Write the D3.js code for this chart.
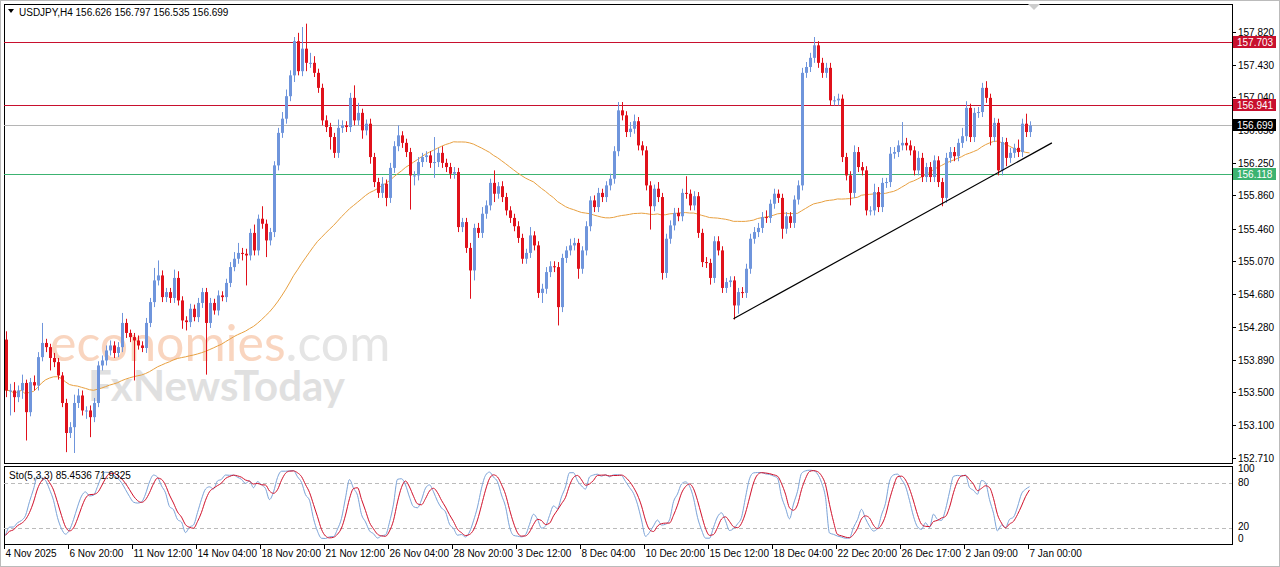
<!DOCTYPE html>
<html><head><meta charset="utf-8">
<script src="https://cdn.jsdelivr.net/npm/d3@7"></script>
<style>body{margin:0;background:#fff;}svg{display:block;font-family:"Liberation Sans",sans-serif;}</style>
</head><body><svg id="c" width="1280" height="567"></svg>
<script>
const firstOpen = 154.13;
const closes = [153.52,153.52,153.44,153.52,153.61,153.26,153.62,153.58,153.92,154.09,
154.04,153.91,153.86,153.70,153.37,153.01,153.08,153.37,153.46,153.28,
153.28,153.20,153.37,153.82,153.88,154.00,154.06,153.97,154.04,154.33,
154.21,154.16,154.12,154.06,154.03,154.33,154.58,154.84,154.90,154.64,
154.70,154.63,154.87,154.60,154.36,154.34,154.50,154.40,154.57,154.70,
154.33,154.57,154.48,154.66,154.64,154.81,155.00,155.10,155.17,155.16,
155.14,155.41,155.20,155.58,155.52,155.32,155.42,156.22,156.61,156.78,
157.05,157.30,157.71,157.35,157.62,157.45,157.45,157.33,157.15,156.76,
156.68,156.56,156.37,156.67,156.70,156.68,157.03,156.76,156.85,156.64,
156.72,156.32,156.02,155.89,156.00,155.83,156.19,156.45,156.58,156.49,
156.38,156.10,156.10,156.26,156.32,156.34,156.25,156.26,156.37,156.25,
156.20,156.12,156.14,155.48,155.54,155.23,154.96,155.47,155.41,155.64,
155.74,156.01,155.88,155.97,155.84,155.68,155.59,155.49,155.35,155.10,
155.17,155.38,155.26,154.69,154.74,154.94,155.01,155.00,154.52,155.11,
155.20,155.26,155.29,154.98,155.20,155.49,155.80,155.72,155.89,155.84,
155.98,156.06,156.39,156.88,156.82,156.62,156.66,156.75,156.46,156.40,
155.98,155.73,155.94,155.84,154.93,155.34,155.50,155.65,155.61,155.89,
155.88,155.74,155.85,155.41,155.06,155.05,154.87,155.31,155.20,154.75,
154.82,154.84,154.54,154.70,154.69,154.98,155.34,155.42,155.47,155.60,
155.59,155.76,155.88,155.83,155.46,155.61,155.53,155.81,155.98,157.33,
157.40,157.51,157.66,157.45,157.33,157.39,157.00,157.00,157.02,156.32,
156.10,155.89,156.38,156.20,156.16,155.68,155.68,155.90,155.72,156.01,
156.02,156.36,156.38,156.46,156.49,156.46,156.40,156.16,156.31,156.08,
156.20,156.08,156.28,156.02,155.83,156.31,156.38,156.33,156.49,156.57,
156.91,156.56,156.85,156.86,157.15,157.03,156.56,156.73,156.16,156.50,
156.31,156.37,156.43,156.38,156.72,156.62,156.699];
const upperWick = [.10,.08,.10,.06,.10,.04,.05,.08,.06,.24,
.05,.04,.06,.05,.04,.05,.06,.10,.08,.06,
.05,.06,.06,.05,.06,.06,.06,.05,.06,.12,
.05,.04,.05,.06,.05,.06,.05,.15,.18,.06,
.05,.05,.10,.08,.05,.05,.06,.05,.06,.05,
.05,.06,.05,.06,.05,.05,.06,.08,.12,.06,
.06,.05,.10,.05,.15,.05,.05,.05,.06,.08,
.08,.06,.05,.10,.26,.30,.12,.08,.05,.05,
.06,.05,.05,.10,.06,.05,.06,.15,.12,.05,
.05,.06,.05,.05,.08,.05,.06,.06,.12,.05,
.05,.05,.05,.06,.05,.05,.05,.30,.06,.08,
.05,.05,.06,.05,.05,.05,.06,.05,.06,.08,
.06,.05,.15,.05,.06,.05,.05,.05,.06,.05,
.05,.10,.05,.05,.06,.06,.06,.06,.06,.05,
.05,.08,.06,.05,.05,.06,.05,.06,.06,.05,
.05,.06,.06,.10,.10,.05,.08,.08,.05,.05,
.05,.05,.05,.08,.05,.06,.06,.06,.06,.05,
.20,.05,.06,.05,.05,.06,.05,.06,.06,.05,
.05,.05,.05,.05,.06,.06,.06,.06,.06,.06,
.08,.05,.06,.05,.05,.05,.05,.05,.06,.06,
.06,.06,.10,.05,.06,.06,.06,.05,.06,.05,
.05,.05,.08,.06,.06,.05,.05,.10,.06,.06,
.05,.08,.06,.06,.25,.06,.06,.05,.08,.06,
.05,.06,.06,.05,.05,.06,.06,.06,.05,.10,
.08,.05,.06,.06,.06,.08,.05,.06,.05,.06,
.05,.06,.05,.10,.06,.12,.05];
const lowerWick = [.08,.30,.18,.06,.10,.34,.05,.06,.06,.05,
.06,.15,.06,.05,.05,.23,.06,.31,.06,.06,
.10,.24,.06,.05,.06,.06,.06,.06,.05,.06,
.06,.06,.48,.05,.05,.06,.05,.06,.06,.06,
.06,.06,.06,.06,.10,.10,.06,.05,.06,.06,
.62,.06,.05,.06,.05,.06,.05,.05,.06,.08,
.36,.06,.06,.06,.06,.20,.06,.06,.06,.06,
.06,.06,.08,.05,.06,.10,.06,.05,.06,.06,
.06,.15,.06,.06,.06,.06,.06,.06,.06,.10,
.06,.08,.06,.06,.06,.10,.06,.06,.06,.06,
.06,.41,.12,.06,.06,.06,.06,.18,.06,.06,
.06,.06,.06,.06,.06,.06,.34,.12,.06,.06,
.06,.06,.10,.06,.06,.06,.06,.06,.06,.06,
.06,.06,.06,.06,.12,.06,.06,.06,.22,.06,
.06,.06,.06,.12,.06,.06,.06,.06,.06,.06,
.06,.06,.06,.06,.06,.06,.06,.06,.06,.06,
.06,.28,.06,.06,.08,.06,.06,.06,.06,.06,
.06,.06,.06,.06,.06,.06,.08,.06,.06,.06,
.06,.06,.17,.10,.06,.06,.06,.06,.06,.06,
.06,.06,.06,.06,.12,.06,.06,.06,.06,.06,
.06,.06,.06,.06,.06,.06,.06,.06,.06,.06,
.06,.15,.06,.06,.06,.06,.06,.06,.06,.06,
.06,.06,.06,.06,.06,.06,.06,.06,.06,.06,
.06,.06,.06,.06,.10,.06,.06,.06,.06,.06,
.06,.06,.06,.06,.06,.06,.10,.06,.06,.06,
.10,.06,.06,.06,.06,.06,.06];
const priceTicks = ["157.820","157.430","157.040","156.650","156.250","155.860","155.460","155.070","154.680","154.280","153.890","153.500","153.100","152.710"];
const timeLabels = ["4 Nov 2025","6 Nov 20:00","11 Nov 12:00","14 Nov 04:00","18 Nov 20:00","21 Nov 12:00","26 Nov 04:00","28 Nov 20:00","3 Dec 12:00","8 Dec 04:00","10 Dec 20:00","15 Dec 12:00","18 Dec 04:00","22 Dec 20:00","26 Dec 17:00","2 Jan 09:00","7 Jan 00:00"];
const levels = [{p:157.703,c:"#c8102e",t:"157.703"},{p:156.941,c:"#c8102e",t:"156.941"},{p:156.118,c:"#3cb371",t:"156.118"}];
const lastPrice = 156.699;
const trendLine = [{i:182,p:154.38},{i:261.6,p:156.49}];
const stoLevels = [80,20];
const maPeriod = 50, kP=5, slowP=3, dP=3;

const svg = d3.select("#c");
const L=4,R=1232,T=4,B=463, ST=466, SB=544;
const FS=10;
const x = d3.scaleLinear().domain([0,1]).range([5.5,9.5]);
const y = d3.scaleLinear().domain([152.71,157.82]).range([458,32]);
const ys = d3.scaleLinear().domain([0,100]).range([543,468]);

const data = closes.map((c,i)=>{const o=i===0?firstOpen:closes[i-1];
 return {i,o,c,h:Math.max(o,c)+upperWick[i],l:Math.min(o,c)-lowerWick[i]};});

svg.append("rect").attr("x",0.5).attr("y",0.5).attr("width",1279).attr("height",566).attr("fill","#fff").attr("stroke","#bbb");
svg.append("rect").attr("x",L+.5).attr("y",T+.5).attr("width",R-L).attr("height",B-T).attr("fill","none").attr("stroke","#000");
svg.append("rect").attr("x",L+.5).attr("y",ST+.5).attr("width",R-L).attr("height",SB-ST).attr("fill","none").attr("stroke","#000");

const wm=svg.append("g").attr("opacity",0.55);
wm.append("text").attr("x",50).attr("y",361).attr("font-family","Lato,sans-serif").attr("font-size",50).attr("fill","#f5b48c").text("economies").append("tspan").attr("fill","#d0d0d0").text(".com");
wm.append("text").attr("x",88).attr("y",401).attr("font-family","Lato,sans-serif").attr("font-weight","bold").attr("font-size",42).attr("fill","#c8c8c8").text("FxNewsToday");

svg.append("line").attr("x1",L).attr("x2",R).attr("y1",Math.round(y(lastPrice))+.5).attr("y2",Math.round(y(lastPrice))+.5).attr("stroke","#b5b5b5");
levels.forEach(l=>svg.append("line").attr("x1",L).attr("x2",R).attr("y1",Math.round(y(l.p))+.5).attr("y2",Math.round(y(l.p))+.5).attr("stroke",l.c));

const ma = data.map((d,i)=>{const s=closes.slice(Math.max(0,i-maPeriod+1),i+1);return {i,v:d3.mean(s)};});
svg.append("path").datum(ma).attr("fill","none").attr("stroke","#e8a040").attr("stroke-width",1)
 .attr("d",d3.line().x(d=>x(d.i)).y(d=>y(d.v)));

const g=svg.append("g");
data.forEach(d=>{const col=d.c>=d.o?"#6f95dc":"#e0111b";const cx=Math.round(x(d.i))+.5;
 g.append("line").attr("x1",cx).attr("x2",cx).attr("y1",y(d.h)).attr("y2",y(d.l)).attr("stroke",col);
 const top=y(Math.max(d.o,d.c)),bot=y(Math.min(d.o,d.c));
 g.append("rect").attr("x",cx-1.5).attr("y",top).attr("width",3).attr("height",Math.max(1,bot-top)).attr("fill",col);
});

svg.append("line").attr("x1",x(trendLine[0].i)).attr("y1",y(trendLine[0].p)).attr("x2",x(trendLine[1].i)).attr("y2",y(trendLine[1].p)).attr("stroke","#000").attr("stroke-width",1.2);

priceTicks.forEach(t=>{const yy=Math.round(y(+t))+.5;
 svg.append("line").attr("x1",R).attr("x2",R+4).attr("y1",yy).attr("y2",yy).attr("stroke","#000");
 svg.append("text").attr("x",R+6).attr("y",yy+3.5).attr("font-size",FS).attr("fill","#000").text(t);});
function tag(p,c,t){const yy=Math.round(y(p));
 svg.append("rect").attr("x",R+1).attr("y",yy-6).attr("width",43).attr("height",12).attr("fill",c);
 svg.append("text").attr("x",R+5).attr("y",yy+4).attr("font-size",FS).attr("fill","#fff").text(t);}
levels.forEach(l=>tag(l.p,l.c,l.t));
tag(lastPrice,"#000","156.699");

svg.append("path").attr("d","M8,9 L14,9 L11,13 Z").attr("fill","#000");
svg.append("text").attr("x",19).attr("y",16).attr("font-size",FS).text("USDJPY,H4  156.626 156.797 156.535 156.699");
svg.append("path").attr("d","M1028,4 L1040,4 L1034,10 Z").attr("fill","#ccc");

const raw=data.map((d,i)=>{const w=data.slice(Math.max(0,i-kP+1),i+1);const hh=d3.max(w,e=>e.h),ll=d3.min(w,e=>e.l);return {num:d.c-ll,den:hh-ll};});
const K=raw.map((r,i)=>{const w=raw.slice(Math.max(0,i-slowP+1),i+1);return 100*d3.sum(w,e=>e.num)/d3.sum(w,e=>e.den);});
const D=K.map((k,i)=>d3.mean(K.slice(Math.max(0,i-dP+1),i+1)));
stoLevels.forEach(v=>svg.append("line").attr("x1",L).attr("x2",R).attr("y1",Math.round(ys(v))+.5).attr("y2",Math.round(ys(v))+.5).attr("stroke","#bbb").attr("stroke-dasharray","4,3"));
const sl=d3.line().x((d,i)=>x(i)).y(d=>ys(d)).curve(d3.curveMonotoneX);
svg.append("path").datum(K).attr("fill","none").attr("stroke","#7ba3d8").attr("d",sl);
svg.append("path").datum(D).attr("fill","none").attr("stroke","#d0102a").attr("d",sl);
svg.append("text").attr("x",9).attr("y",479).attr("font-size",FS).text("Sto(5,3,3) 85.4536 71.9325");
[["100",100,4],["80",80,3],["20",20,0],["0",0,0]].forEach(([t,v,dy])=>svg.append("text").attr("x",R+6).attr("y",ys(v)+dy+ (v==0? -1: v==20? 2:0)).attr("font-size",FS).text(t));

timeLabels.forEach((t,k)=>{const xx=Math.round(x(k*16))-1.5;
 svg.append("line").attr("x1",xx).attr("x2",xx).attr("y1",SB).attr("y2",SB+5).attr("stroke","#000");
 svg.append("text").attr("x",xx+1).attr("y",557).attr("font-size",FS).text(t);});
</script></body></html>
